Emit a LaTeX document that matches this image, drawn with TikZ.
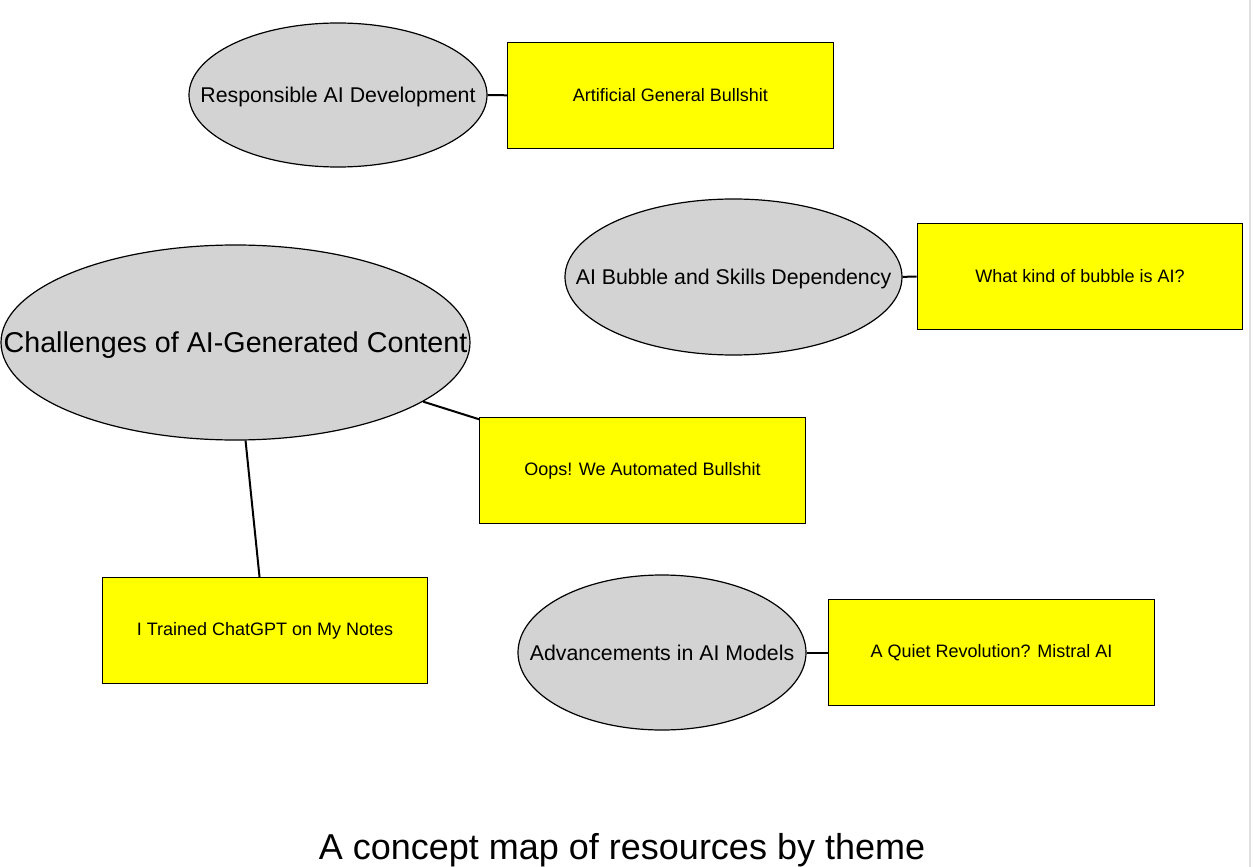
\documentclass[tikz,border=0pt]{standalone}
\usepackage{fontspec}
\setmainfont{Liberation Sans}
\usetikzlibrary{shapes.geometric}
\definecolor{themegray}{HTML}{D3D3D3}
\definecolor{resyellow}{HTML}{FFFF00}
\begin{document}
\begin{tikzpicture}[x=0.75pt,y=-0.75pt,
  theme/.style={ellipse, draw=black, line width=0.9pt, fill=themegray, inner sep=0pt,
    text depth=0pt, font=\fontsize{16}{19}\selectfont},
  resource/.style={rectangle, draw=black, line width=0.9pt, fill=resyellow, inner sep=0pt,
    minimum width=244pt, minimum height=79pt, font=\fontsize{13.5}{16}\selectfont},
  link/.style={draw=black, line width=1.5pt}]
  \useasboundingbox (0,0) rectangle (1254,867);
  \draw[black!12, line width=1pt] (1250,0) -- (1250,867);

  % Responsible AI Development
  \node[theme, minimum width=223.5pt, minimum height=108pt] (responsible) at (338,95)
    {\makebox[0pt]{Responsible AI Development}};
  \node[resource] (agb) at (670.5,95.5) {Artificial General Bullshit};

  % AI Bubble and Skills Dependency
  \node[theme, minimum width=252.75pt, minimum height=117pt] (bubble) at (733.5,277)
    {\makebox[0pt]{AI Bubble and Skills Dependency}};
  \node[resource] (kind) at (1080,276.5) {What kind of bubble is AI?};

  % Challenges of AI-Generated Content
  \node[theme, minimum width=351.75pt, minimum height=146.25pt, font=\fontsize{21.5}{25}\selectfont]
    (challenges) at (235.5,342.5) {\makebox[0pt]{Challenges of AI-Generated Content}};
  \node[resource] (oops) at (642.5,470.5) {Oops! We Automated Bullshit};
  \node[resource] (notes) at (265,630.5) {I Trained ChatGPT on My Notes};

  % Advancements in AI Models
  \node[theme, minimum width=216pt, minimum height=116.25pt] (models) at (662,652.5)
    {\makebox[0pt]{Advancements in AI Models}};
  \node[resource] (mistral) at (991.5,652.5) {A Quiet Revolution? Mistral AI};

  % Links
  \draw[link] (responsible) -- (agb);
  \draw[link] (bubble) -- (kind);
  \draw[link] (challenges) -- (oops);
  \draw[link] (challenges) -- (notes);
  \draw[link] (models) -- (mistral);

  % Caption
  \node[text depth=0pt, font=\fontsize{27}{32}\selectfont] (caption) at (622,846)
    {A concept map of resources by theme};
\end{tikzpicture}
\end{document}
